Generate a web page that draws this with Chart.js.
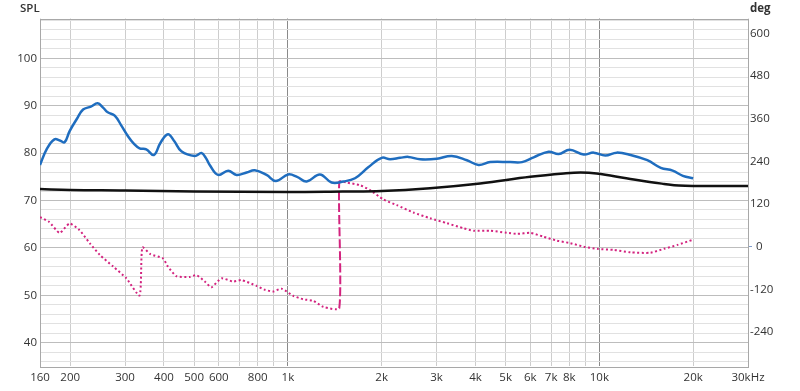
<!DOCTYPE html>
<html>
<head>
<meta charset="utf-8">
<script src="https://cdn.jsdelivr.net/npm/chart.js@4.4.1/dist/chart.umd.min.js"></script>
<style>
	body { margin: 0; background: #fff; }
	canvas { display: block; }
</style>
</head>
<body>
<canvas id="spl-chart" width="800" height="391"></canvas>
<script>
// Measured SPL (blue)
var splFreq = [160, 168, 178, 186, 192, 199, 210, 220, 233, 245, 255, 264, 278, 292, 307, 320, 334, 351, 371, 390, 412, 432, 455, 502, 528, 545, 561, 597, 643, 684, 737, 783, 854, 915, 1002, 1070, 1148, 1267, 1381, 1506, 1642, 1811, 2000, 2128, 2292, 2437, 2658, 3006, 3358, 3754, 4092, 4460, 5170, 5643, 6152, 6870, 7400, 8030, 8900, 9590, 10450, 11370, 12600, 14250, 15740, 17190, 18540, 20000];
var splLevel = [77.5, 80.8, 82.9, 82.6, 82.3, 84.6, 87.2, 89.2, 89.8, 90.5, 89.6, 88.6, 87.9, 85.8, 83.5, 82.0, 81.0, 80.8, 79.6, 82.2, 84.0, 82.5, 80.4, 79.4, 80.0, 79.0, 77.5, 75.4, 76.3, 75.4, 75.9, 76.4, 75.4, 74.1, 75.5, 75.0, 74.0, 75.5, 73.8, 74.0, 74.7, 77.0, 79.0, 78.7, 79.0, 79.2, 78.7, 78.8, 79.4, 78.5, 77.5, 78.1, 78.1, 78.1, 79.1, 80.3, 79.8, 80.7, 79.7, 80.1, 79.5, 80.1, 79.6, 78.5, 76.9, 76.3, 75.2, 74.7];

// Reference curve (black)
var refFreq = [160, 200, 300, 500, 1000, 1500, 2000, 2860, 4140, 6000, 7680, 8700, 9800, 12200, 14500, 16140, 18000, 20000, 30000];
var refLevel = [72.4, 72.2, 72.1, 71.9, 71.8, 71.9, 72.0, 72.6, 73.6, 75.0, 75.7, 75.9, 75.7, 74.7, 73.9, 73.5, 73.15, 73.05, 73.05];

// Phase in degrees (pink), wraps at 1462 Hz
var phaseFreq = [160, 171, 185, 199, 214, 231, 249, 275, 303, 334, 341, 362, 397, 412, 439, 484, 509, 541, 568, 612, 667, 710, 793, 843, 897, 954, 1040, 1120, 1206, 1299, 1462, 1462, 1545, 1704, 1835, 2024, 2236, 2529, 2862, 3240, 3663, 3944, 4460, 5045, 5443, 5993, 6617, 7306, 8066, 8903, 9829, 11120, 12600, 14590, 16120, 17810, 19870];
var phaseDeg = [83, 70, 39, 65, 47, 10, -23, -56, -89, -137, -2, -21, -33, -56, -83, -85, -80, -98, -114, -89, -98, -94, -110, -121, -126, -118, -138, -148, -152, -169, -173, 183, 180, 173, 159, 133, 117, 96, 80, 66, 52, 45, 45, 39, 36, 39, 28, 17, 10, 0, -6, -9, -16, -17, -6, 5, 19];

// Axis ticks
var freqTicks = [160, 200, 300, 400, 500, 600, 700, 800, 900, 1000, 2000, 3000, 4000, 5000, 6000, 7000, 8000, 9000, 10000, 20000, 30000];
var freqLabels = ['160', '200', '300', '400', '500', '600', '', '800', '', '1k', '2k', '3k', '4k', '5k', '6k', '7k', '8k', '', '10k', '20k', '30kHz'];
var degTicks = [-240, -120, 0, 120, 240, 360, 480, 600];

var tickFont = {family: '"Open Sans", "Noto Sans", sans-serif', size: 11.5};

function toPoints(xs, ys) {
	return xs.map(function(x, i) {
		return {x: x, y: ys[i]};
	});
}

// Plot frame and the two unit captions
var frameAndTitles = {
	id: 'frameAndTitles',
	beforeDatasetsDraw: function(chart) {
		var ctx = chart.ctx,
			a = chart.chartArea;

		ctx.save();
		ctx.strokeStyle = '#a8a8a8';
		ctx.lineWidth = 1;
		ctx.strokeRect(Math.round(a.left) + 0.5, Math.round(a.top) + 0.5, Math.round(a.right - a.left), Math.round(a.bottom - a.top));
		ctx.restore();
	},
	afterDraw: function(chart) {
		var ctx = chart.ctx;

		ctx.save();
		ctx.fillStyle = '#333';
		ctx.textBaseline = 'alphabetic';
		ctx.textAlign = 'left';
		ctx.font = '600 11.5px "Open Sans", sans-serif';
		ctx.fillText('SPL', 20, 12);
		ctx.font = 'bold 11.5px "Open Sans", sans-serif';
		ctx.fillText('deg', 750, 12);
		ctx.restore();
	}
};

new Chart(document.getElementById('spl-chart'), {
	type: 'line',
	data: {
		datasets: [{
			label: 'Reference',
			data: toPoints(refFreq, refLevel),
			yAxisID: 'y',
			borderColor: '#111111',
			borderWidth: 2.5,
			pointRadius: 0,
			tension: 0.4
		}, {
			label: 'SPL',
			data: toPoints(splFreq, splLevel),
			yAxisID: 'y',
			borderColor: '#1f6dbf',
			borderWidth: 2.5,
			pointRadius: 0,
			tension: 0.4
		}, {
			label: 'Phase',
			data: toPoints(phaseFreq, phaseDeg),
			yAxisID: 'yDeg',
			borderColor: '#d3237f',
			borderWidth: 2,
			borderDash: [2, 2.5],
			pointRadius: 0,
			tension: 0.2,
			segment: {
				//Long dashes for the wrap jump
				borderDash: function(ctx) {
					return ctx.p0.parsed.x === ctx.p1.parsed.x ? [9, 3] : undefined;
				}
			}
		}]
	},
	options: {
		responsive: false,
		animation: false,
		devicePixelRatio: 1,
		layout: {
			padding: {top: 18.5, left: 0, right: 0, bottom: 0}
		},
		plugins: {
			legend: {display: false},
			tooltip: {enabled: false}
		},
		scales: {
			x: {
				type: 'logarithmic',
				min: 160,
				max: 30000,
				afterBuildTicks: function(scale) {
					scale.ticks = freqTicks.map(function(v) {
						return {value: v};
					});
				},
				afterFit: function(scale) {
					scale.height = 25;
				},
				border: {display: false},
				grid: {
					drawTicks: false,
					color: function(ctx) {
						var v = ctx.tick && ctx.tick.value;
						if (v === 1000 || v === 10000) {
							return '#8a8a8a';
						}
						return '#cdcdcd';
					}
				},
				ticks: {
					autoSkip: false,
					maxRotation: 0,
					padding: 5,
					color: '#333',
					font: tickFont,
					callback: function(value) {
						var i = freqTicks.indexOf(value);
						return i >= 0 ? freqLabels[i] : '';
					}
				}
			},
			y: {
				position: 'left',
				min: 35.08,
				max: 108.4,
				afterBuildTicks: function(scale) {
					var ticks = [];
					for (let v = 36; v <= 108; v += 2) {
						ticks.push({value: v});
					}
					scale.ticks = ticks;
				},
				afterFit: function(scale) {
					scale.width = 40;
				},
				border: {display: false},
				grid: {
					drawTicks: false,
					color: function(ctx) {
						return ctx.tick && ctx.tick.value % 10 === 0 ? '#bdbdbd' : '#e1e1e1';
					}
				},
				ticks: {
					autoSkip: false,
					padding: 3,
					color: '#333',
					font: tickFont,
					callback: function(value) {
						return value % 10 === 0 ? String(value) : '';
					}
				}
			},
			yDeg: {
				position: 'right',
				min: -335.4,
				max: 641.5,
				afterBuildTicks: function(scale) {
					scale.ticks = degTicks.map(function(v) {
						return {value: v};
					});
				},
				afterFit: function(scale) {
					scale.width = 52;
				},
				border: {display: false},
				grid: {
					drawOnChartArea: false,
					tickLength: 4,
					tickColor: function(ctx) {
						return ctx.tick && ctx.tick.value === 0 ? '#7f9ccc' : 'rgba(0,0,0,0)';
					}
				},
				ticks: {
					autoSkip: false,
					padding: -2,
					color: '#333',
					font: tickFont,
					callback: function(value) {
						return value === 0 ? '  0' : String(value);
					}
				}
			}
		}
	},
	plugins: [frameAndTitles]
});
</script>
</body>
</html>
